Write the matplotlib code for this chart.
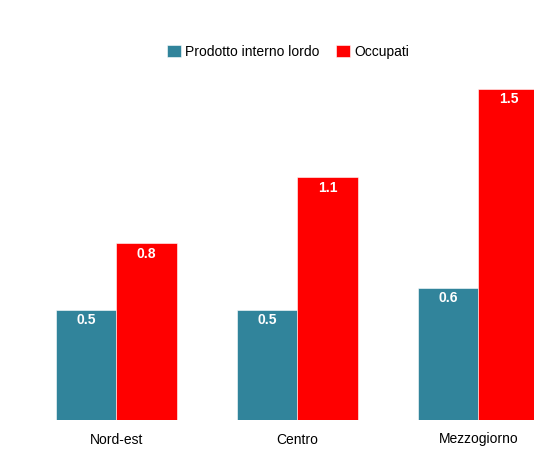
import numpy as np
import matplotlib.pyplot as plt

plt.rcParams['font.family'] = ['Liberation Sans', 'DejaVu Sans']

# data
categories = ['Nord-est', 'Centro', 'Mezzogiorno']
pil = [0.5, 0.5, 0.6]
occupati = [0.8, 1.1, 1.5]
series_names = ['Prodotto interno lordo', 'Occupati']
colors = ['#31849B', '#FF0000']

fig = plt.figure(figsize=(5.34, 4.62), dpi=100)
# axes deliberately wider than the figure: the last bar is cut at the right edge
ax = fig.add_axes([26 / 534, 42 / 462, 543 / 534, 331 / 462])

x = np.arange(len(categories))
w = 0.334
b1 = ax.bar(x - w / 2, pil, w, color=colors[0], edgecolor='white', linewidth=0.4,
            label=series_names[0])
b2 = ax.bar(x + w / 2, occupati, w, color=colors[1], edgecolor='white', linewidth=0.4,
            label=series_names[1])

for bars, vals in [(b1, pil), (b2, occupati)]:
    for rect, v in zip(bars, vals):
        ax.annotate(f'{v:.1f}', (rect.get_x() + rect.get_width() / 2, v),
                    xytext=(0, -2.5), textcoords='offset points',
                    ha='center', va='top', color='white', fontweight='bold', fontsize=10)

ax.set_xlim(-0.5, 2.5)
ax.set_ylim(0, 1.5)
ax.set_xticks(x)
ax.set_xticklabels(categories, fontsize=10)
ax.tick_params(axis='x', length=0, pad=9)
ax.set_yticks([])
for s in ax.spines.values():
    s.set_visible(False)

fig.legend(loc='center', bbox_to_anchor=(288 / 534, 1 - 52 / 462), ncol=2, frameon=False,
           fontsize=10, handlelength=1.0, handleheight=1.0, handletextpad=0.3,
           columnspacing=1.2)

fig.savefig('out.png', dpi=100)
